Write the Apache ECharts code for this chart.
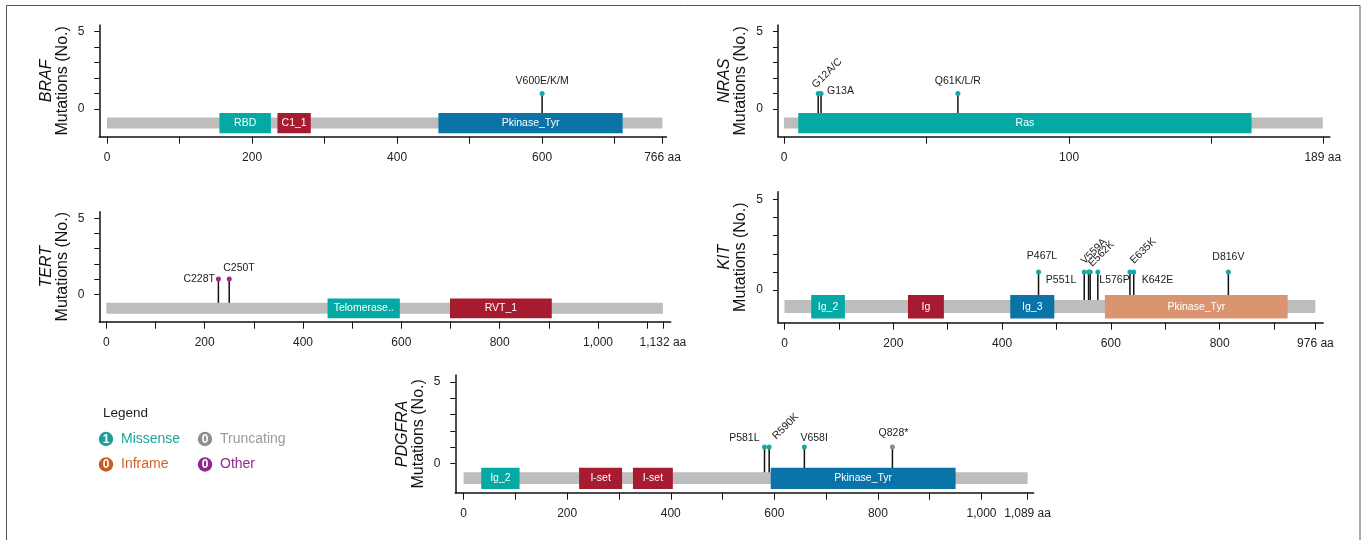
<!DOCTYPE html>
<html><head><meta charset="utf-8">
<script src="https://cdn.jsdelivr.net/npm/echarts@6/dist/echarts.min.js"></script>
<style>html,body{margin:0;padding:0;background:#fff}#c{width:1366px;height:540px}</style>
</head><body><div id="c"></div>
<script>
// ---------------- data ----------------
const genes = ['BRAF', 'NRAS', 'TERT', 'KIT', 'PDGFRA'];
const proteinLengths = [766, 189, 1132, 976, 1089];

const brafDomains   = [['RBD', 155, 226], ['C1_1', 235, 281], ['Pkinase_Tyr', 457, 711]];
const nrasDomains   = [['Ras', 5, 164]];
const tertDomains   = [['Telomerase..', 450, 597], ['RVT_1', 699, 906]];
const kitDomains    = [['Ig_2', 49, 111], ['Ig', 227, 293], ['Ig_3', 415, 496], ['Pkinase_Tyr', 589, 925]];
const pdgfraDomains = [['Ig_2', 34, 108], ['I-set', 223, 306], ['I-set', 327, 404], ['Pkinase_Tyr', 593, 950]];

const brafMutations   = [['V600E/K/M', 600, 1, 'Missense']];
const nrasMutations   = [['G12A/C', 12, 1, 'Missense'], ['G13A', 13, 1, 'Missense'], ['Q61K/L/R', 61, 1, 'Missense']];
const tertMutations   = [['C228T', 228, 1, 'Other'], ['C250T', 250, 1, 'Other']];
const kitMutations    = [['P467L', 467, 1, 'Missense'], ['P551L', 551, 1, 'Missense'], ['V559A', 559, 1, 'Missense'],
                         ['E562K', 562, 1, 'Missense'], ['L576P', 576, 1, 'Missense'], ['E635K', 635, 1, 'Missense'],
                         ['K642E', 642, 1, 'Missense'], ['D816V', 816, 1, 'Missense']];
const pdgfraMutations = [['P581L', 581, 1, 'Missense'], ['R590K', 590, 1, 'Missense'], ['V658I', 658, 1, 'Missense'],
                         ['Q828*', 828, 1, 'Truncating']];

const legendTypes  = ['Missense', 'Truncating', 'Inframe', 'Other'];
const legendCounts = [1, 0, 0, 0];

const yTickValues  = [0, 1, 2, 3, 4, 5];
const yLabelValues = [0, 5];

// ---------------- styles / layout ----------------
const FONT = '"Liberation Sans", Arial, Helvetica, sans-serif';
const TEAL = '#04A9A4', CRIMSON = '#A71B30', BLUE = '#0A73A8', ORANGE = '#DA9570', BACKBONE = '#BDBDBD';
const typeColors = { Missense: '#15A9A6', Truncating: '#8C8C8C', Inframe: '#D0611F', Other: '#9A2A8D' };
const legendColors = { Missense: '#1A9E96', Truncating: '#8E8E8E', Inframe: '#C95B22', Other: '#8E2A8E' };
const legendTextColors = { Missense: '#1AA69D', Truncating: '#9A9A9A', Inframe: '#D0632A', Other: '#8E2A8E' };

const domainsByGene   = [brafDomains, nrasDomains, tertDomains, kitDomains, pdgfraDomains];
const mutationsByGene = [brafMutations, nrasMutations, tertMutations, kitMutations, pdgfraMutations];
const domainColors = [
  [TEAL, CRIMSON, BLUE],
  [TEAL],
  [TEAL, CRIMSON],
  [TEAL, CRIMSON, BLUE, ORANGE],
  [TEAL, CRIMSON, CRIMSON, BLUE]
];
// panel pixel layout: y-axis x, top, right end of x-axis line, bottom, pixel of aa 0, pixel of last aa
const panelLayout = [
  { left: 99.3, top: 25,    right: 666.4,  bottom: 136.7, x0: 107,   xEnd: 662.5 },
  { left: 778,  top: 25,    right: 1329.8, bottom: 136.7, x0: 784,   xEnd: 1322.8 },
  { left: 99.3, top: 211.7, right: 670.7,  bottom: 321.7, x0: 106.3, xEnd: 662.9 },
  { left: 778,  top: 191.7, right: 1323.2, bottom: 322.7, x0: 784.5, xEnd: 1315.4 },
  { left: 455.3,top: 375,   right: 1033.7, bottom: 492.7, x0: 463.6, xEnd: 1027.6 }
];
const xTickStep = [100, 50, 100, 100, 100];
const xLabelStep = [200, 100, 200, 200, 200];
const Y_MIN = -1.8, Y_MAX = 5.43;

// label placement (pixel offsets from lollipop head)
const labelPlacement = {
  'V600E/K/M': { dx: 0, dy: -12.5, align: 'center' },
  'G12A/C':    { dx: -0.5, dy: -3, align: 'left', rot: 45 },
  'G13A':      { dx: 6, dy: -2, align: 'left' },
  'Q61K/L/R':  { dx: 0, dy: -12.5, align: 'center' },
  'C228T':     { dx: -3.5, dy: 0, align: 'right' },
  'C250T':     { dx: -6, dy: -10.5, align: 'left' },
  'P467L':     { dx: 3.5, dy: -16, align: 'center' },
  'P551L':     { dx: -8, dy: 8, align: 'right' },
  'V559A':     { dx: -2, dy: -5.5, align: 'left', rot: 45 },
  'E562K':     { dx: 4, dy: -3, align: 'left', rot: 45 },
  'L576P':     { dx: 1.5, dy: 8, align: 'left' },
  'E635K':     { dx: 6, dy: -6, align: 'left', rot: 45 },
  'K642E':     { dx: 8, dy: 8, align: 'left' },
  'D816V':     { dx: 0, dy: -15, align: 'center' },
  'P581L':     { dx: -5, dy: -9, align: 'right' },
  'R590K':     { dx: 9, dy: -5.5, align: 'left', rot: 45 },
  'V658I':     { dx: -4, dy: -9, align: 'left' },
  'Q828*':     { dx: 1, dy: -14, align: 'center' }
};

function fmtNum(v) { return String(v).replace(/\B(?=(\d{3})+(?!\d))/g, ','); }
function range(step, end) { const a = []; for (let v = 0; v < end; v += step) a.push(v); a.push(end); return a; }

const grids = [], xAxes = [], yAxes = [], series = [];

genes.forEach((gene, i) => {
  const L = proteinLengths[i];
  const lay = panelLayout[i];
  const scale = (lay.xEnd - lay.x0) / L;
  grids.push({ left: lay.left, top: lay.top, width: lay.right - lay.left, height: lay.bottom - lay.top,
               containLabel: false, outerBoundsMode: 'none' });
  xAxes.push({
    type: 'value', gridIndex: i,
    min: (lay.left - lay.x0) / scale, max: (lay.right - lay.x0) / scale,
    axisLine: { show: true, onZero: false, lineStyle: { color: '#111', width: 1.5 } },
    axisTick: { show: true, length: 7, customValues: range(xTickStep[i], L), lineStyle: { color: '#111', width: 1 } },
    axisLabel: { show: true, customValues: range(xLabelStep[i], L).filter(v => v % xLabelStep[i] === 0 || v === L),
                 margin: 14.5, fontSize: 12, color: '#222', fontFamily: FONT,
                 formatter: v => (v === L ? fmtNum(v) + ' aa' : fmtNum(v)) },
    splitLine: { show: false }
  });
  yAxes.push({
    type: 'value', gridIndex: i, min: Y_MIN, max: Y_MAX,
    axisLine: { show: true, onZero: false, lineStyle: { color: '#111', width: 1.5 } },
    axisTick: { show: true, length: 5, customValues: yTickValues, lineStyle: { color: '#111', width: 1 } },
    axisLabel: { show: true, customValues: yLabelValues, margin: 15, fontSize: 12, color: '#222', fontFamily: FONT },
    splitLine: { show: false },
    name: '{g|' + gene + '}\n{m|Mutations (No.)}',
    nameLocation: 'middle', nameRotate: 90, nameGap: 29,
    nameTextStyle: { color: '#111', fontFamily: FONT,
      rich: { g: { fontStyle: 'italic', fontSize: 16, lineHeight: 16, fontFamily: FONT, color: '#111' },
              m: { fontSize: 16, lineHeight: 16, fontFamily: FONT, color: '#111' } } }
  });

  const muts = mutationsByGene[i];
  const doms = domainsByGene[i];

  // stems + heads
  series.push({
    type: 'custom', xAxisIndex: i, yAxisIndex: i, z: 2,
    data: muts.map(m => [m[1], m[2]]),
    encode: { x: 0, y: 1 },
    renderItem: (params, api) => {
      const m = muts[params.dataIndex];
      const top = api.coord([api.value(0), api.value(1)]);
      const bot = api.coord([api.value(0), -0.9]);
      return { type: 'group', children: [
        { type: 'line', shape: { x1: top[0], y1: top[1], x2: bot[0], y2: bot[1] }, style: { stroke: '#111', lineWidth: 1.5 } },
        { type: 'circle', shape: { cx: top[0], cy: top[1], r: 2.5 }, style: { fill: typeColors[m[3]] } }
      ] };
    }
  });
  // protein backbone
  series.push({
    type: 'custom', xAxisIndex: i, yAxisIndex: i, z: 3,
    data: [[0, L]],
    encode: { x: [0, 1] },
    renderItem: (params, api) => {
      const p1 = api.coord([api.value(0), -0.55]);
      const p2 = api.coord([api.value(1), -1.27]);
      return { type: 'rect', shape: { x: p1[0], y: p1[1], width: p2[0] - p1[0], height: p2[1] - p1[1] }, style: { fill: BACKBONE } };
    }
  });
  // domains
  series.push({
    type: 'custom', xAxisIndex: i, yAxisIndex: i, z: 4,
    data: doms.map(d => [d[1], d[2]]),
    encode: { x: [0, 1] },
    renderItem: (params, api) => {
      const d = doms[params.dataIndex];
      const p1 = api.coord([api.value(0), -0.27]);
      const p2 = api.coord([api.value(1), -1.57]);
      return { type: 'rect', shape: { x: p1[0], y: p1[1], width: p2[0] - p1[0], height: p2[1] - p1[1] },
               style: { fill: domainColors[i][params.dataIndex] },
               textContent: { style: { text: d[0], fill: '#fff', fontSize: 10.5, fontFamily: FONT } },
               textConfig: { position: 'inside' } };
    }
  });
  // mutation labels
  series.push({
    type: 'custom', xAxisIndex: i, yAxisIndex: i, z: 5,
    data: muts.map(m => [m[1], m[2]]),
    encode: { x: 0, y: 1 },
    renderItem: (params, api) => {
      const m = muts[params.dataIndex];
      const pl = labelPlacement[m[0]] || { dx: 0, dy: -12, align: 'center' };
      const p = api.coord([api.value(0), api.value(1)]);
      return { type: 'text', x: p[0] + pl.dx, y: p[1] + pl.dy, rotation: pl.rot ? pl.rot * Math.PI / 180 : 0,
               style: { text: m[0], x: 0, y: 0, align: pl.align, verticalAlign: pl.rot ? 'bottom' : 'middle',
                        fontSize: 10.5, fontFamily: FONT, fill: '#222' } };
    }
  });
});

// legend + frame (graphic)
const graphic = [
  { type: 'rect', shape: { x: 6.5, y: 5.5, width: 1353.5, height: 560 }, style: { fill: 'none', stroke: '#555', lineWidth: 1 }, z: 0 },
  { type: 'text', x: 103, y: 413.5, style: { text: 'Legend', fontSize: 13.5, fontFamily: FONT, fill: '#222', verticalAlign: 'middle' } }
];
const legendPos = [[106, 439], [205, 439], [106, 464.5], [205, 464.5]];
legendTypes.forEach((t, k) => {
  const [cx, cy] = legendPos[k];
  graphic.push({ type: 'circle', shape: { cx: cx, cy: cy, r: 7.2 }, style: { fill: legendColors[t] } });
  graphic.push({ type: 'text', x: cx, y: cy + 0.5, style: { text: String(legendCounts[k]), align: 'center', verticalAlign: 'middle',
                 fontSize: 12, fontWeight: 'bold', fontFamily: FONT, fill: '#fff' } });
  graphic.push({ type: 'text', x: cx + 15, y: cy, style: { text: t, verticalAlign: 'middle', fontSize: 14, fontFamily: FONT, fill: legendTextColors[t] } });
});

const chart = echarts.init(document.getElementById('c'), null, { renderer: 'canvas' });
chart.setOption({
  animation: false,
  backgroundColor: '#fff',
  textStyle: { fontFamily: FONT },
  grid: grids, xAxis: xAxes, yAxis: yAxes, series: series, graphic: graphic
});
</script></body></html>
